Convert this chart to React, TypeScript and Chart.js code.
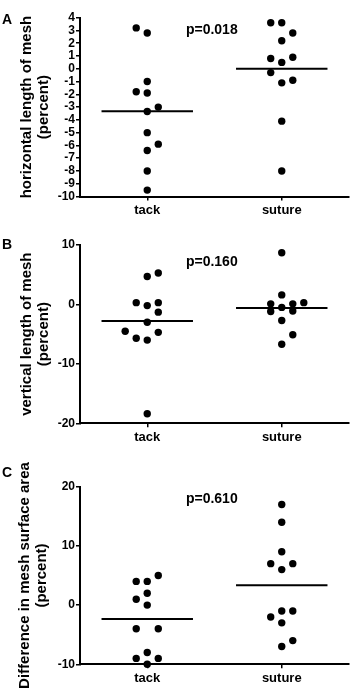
import React, { useEffect, useRef } from 'react';
import { Chart, registerables } from 'chart.js';

Chart.register(...registerables);

// ---------- data ----------
const categories = ['tack', 'suture'];

// Panel A: horizontal length of mesh (percent)
const horizTack = [3.2, 2.8, -1.0, -1.8, -1.9, -3.0, -3.35, -5.0, -5.9, -6.4, -8.0, -9.5];
const horizSuture = [3.6, 3.6, 2.8, 2.2, 0.8, 0.5, 0.9, -0.3, -1.1, -0.9, -4.1, -8.0];
// Panel B: vertical length of mesh (percent)
const vertTack = [5.3, 4.7, 0.3, 0.3, -0.2, -1.3, -3.0, -4.5, -4.7, -5.7, -6.0, -18.4];
const vertSuture = [8.7, 1.6, 0.3, 0.1, 0.1, -0.5, -1.1, -1.2, -2.7, -5.1, -6.7];
// Panel C: difference in mesh surface area (percent)
const areaTack = [5, 4, 4, 2, 1, 0, -4, -4, -8, -9, -9, -10];
const areaSuture = [17, 14, 9, 7, 7, 6, -1, -1, -2, -3, -6, -7];

const pValues = ['p=0.018', 'p=0.160', 'p=0.610'];
const panelLetters = ['A', 'B', 'C'];
const yTitles = [
  ['horizontal length of mesh', '(percent)'],
  ['vertical length of mesh', '(percent)'],
  ['Difference in mesh surface area', '(percent)'],
];
const yMins = [-10, -20, -10];
const yMaxs = [4, 10, 20];
const ySteps = [1, 10, 10];

// beeswarm column index of each point (layout, not data)
const horizTackCols = [-1, 0, 0, -1, 0, 1, 0, 0, 1, 0, 0, 0];
const horizSutureCols = [-1, 0, 1, 0, -1, 0, 1, -1, 0, 1, 0, 0];
const vertTackCols = [1, 0, -1, 1, 0, 1, 0, -2, 1, -1, 0, 0];
const vertSutureCols = [0, 0, 2, -1, 1, 0, 1, -1, 0, 1, 0];
const areaTackCols = [1, -1, 0, 0, -1, 0, -1, 1, 0, -1, 1, 0];
const areaSutureCols = [0, 0, 0, -1, 1, 0, 0, 1, -1, 0, 1, 0];

// ---------- layout ----------
const FONT = 'Arial, "Liberation Sans", Helvetica, sans-serif';
const COL_W = 0.082;
const MEAN_HALF = 0.34;

const panels = [
  { groups: [horizTack, horizSuture], cols: [horizTackCols, horizSutureCols], top: 0, height: 230, areaTop: 17.7, areaBottom: 196.5, letterY: 20, pDy: 12.5, titlePad: 18.4 },
  { groups: [vertTack, vertSuture], cols: [vertTackCols, vertSutureCols], top: 230, height: 230, areaTop: 15, areaBottom: 193.3, letterY: 15, pDy: 17, titlePad: 18.4 },
  { groups: [areaTack, areaSuture], cols: [areaTackCols, areaSutureCols], top: 440, height: 249, areaTop: 46.7, areaBottom: 224.3, letterY: 33, pDy: 12.5, titlePad: 16.4 },
];

const mean = (a: number[]) => a.reduce((s, v) => s + v, 0) / a.length;

const annotPlugin = {
  id: 'annot',
  afterDraw(chart: any, _args: any, opts: any) {
    const ctx = chart.ctx;
    const { top } = chart.chartArea;
    ctx.save();
    ctx.fillStyle = '#000';
    ctx.textBaseline = 'middle';
    ctx.font = `bold 14px ${FONT}`;
    ctx.textAlign = 'center';
    ctx.fillText(opts.pText, chart.scales.x.getPixelForValue(0.48), top + opts.pDy);
    ctx.textAlign = 'left';
    ctx.font = `bold 14px ${FONT}`;
    ctx.fillText(opts.letter, 2, opts.letterY);
    ctx.restore();
  },
};

function Panel({ idx }: { idx: number }) {
  const ref = useRef<HTMLCanvasElement | null>(null);
  const p = panels[idx];
  useEffect(() => {
    if (!ref.current) return;
    const datasets: any[] = [];
    p.groups.forEach((vals, gi) => {
      datasets.push({
        type: 'scatter',
        data: vals.map((v, i) => ({ x: gi + p.cols[gi][i] * COL_W, y: v })),
        backgroundColor: '#000',
        borderColor: '#000',
        borderWidth: 0,
        pointRadius: 3.7,
        showLine: false,
        clip: false,
      });
      const m = mean(vals);
      datasets.push({
        type: 'line',
        data: [
          { x: gi - MEAN_HALF, y: m },
          { x: gi + MEAN_HALF, y: m },
        ],
        borderColor: '#000',
        borderWidth: 2,
        pointRadius: 0,
        showLine: true,
        fill: false,
        clip: false,
      });
    });
    const chart = new Chart(ref.current, {
      type: 'scatter',
      data: { datasets },
      plugins: [annotPlugin],
      options: {
        animation: false,
        responsive: false,
        devicePixelRatio: 1,
        layout: { padding: { top: p.areaTop, right: 6, left: 0, bottom: 0 } },
        plugins: {
          legend: { display: false },
          tooltip: { enabled: false },
          annot: { pText: pValues[idx], letter: panelLetters[idx], letterY: p.letterY, pDy: p.pDy },
        } as any,
        scales: {
          x: {
            type: 'linear',
            min: -0.5,
            max: 1.5,
            afterBuildTicks: (s: any) => {
              s.ticks = categories.map((_, i) => ({ value: i }));
            },
            afterFit: (s: any) => {
              s.height = p.height - p.areaBottom;
            },
            ticks: {
              callback: (v: any) => categories[v] ?? '',
              color: '#000',
              font: { family: FONT, size: 13, weight: 'bold' },
              padding: 2,
              maxRotation: 0,
              autoSkip: false,
            },
            grid: { display: true, drawOnChartArea: false, drawTicks: true, tickLength: 4, color: '#000', lineWidth: 1.5 },
            border: { display: true, color: '#000', width: 2 },
          },
          y: {
            type: 'linear',
            min: yMins[idx],
            max: yMaxs[idx],
            afterFit: (s: any) => {
              s.width = 80;
            },
            ticks: {
              stepSize: ySteps[idx],
              autoSkip: false,
              color: '#000',
              font: { family: FONT, size: 12, weight: 'bold' },
              padding: 1,
            },
            grid: { display: true, drawOnChartArea: false, drawTicks: true, tickLength: 4, color: '#000', lineWidth: 1.5 },
            border: { display: true, color: '#000', width: 2 },
            title: {
              display: true,
              text: yTitles[idx],
              color: '#000',
              font: { family: FONT, size: 15, weight: 'bold', lineHeight: 1.15 },
              padding: { top: p.titlePad, bottom: 0 },
            },
          },
        },
      } as any,
    });
    return () => chart.destroy();
  }, [idx]);
  return (
    <canvas
      ref={ref}
      width={355}
      height={p.height}
      style={{ position: 'absolute', left: 0, top: p.top, width: 355, height: p.height, display: 'block' }}
    />
  );
}

export default function App() {
  return (
    <div style={{ position: 'absolute', left: 0, top: 0, width: 355, height: 689, overflow: 'hidden', background: '#fff' }}>
      {panels.map((_, i) => (
        <Panel key={i} idx={i} />
      ))}
    </div>
  );
}
